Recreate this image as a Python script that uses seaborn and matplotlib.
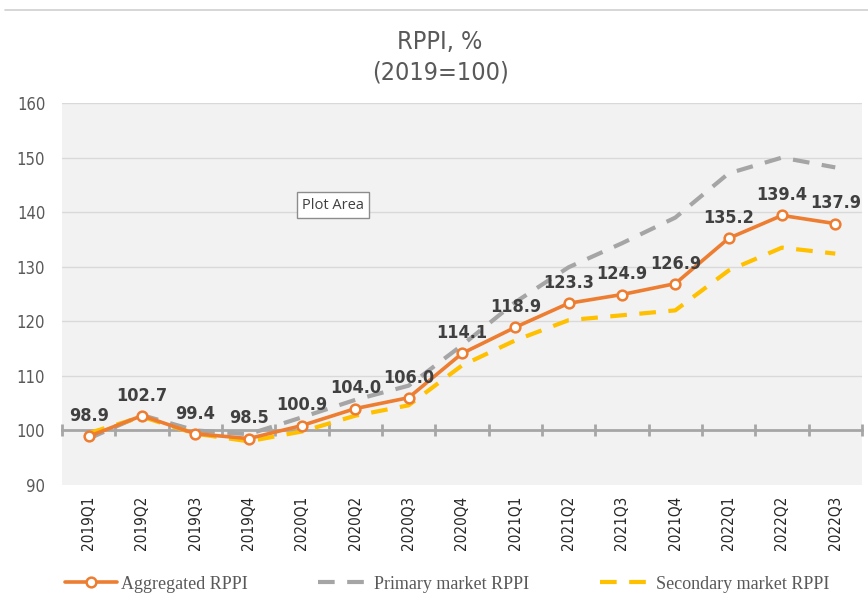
import numpy as np
import pandas as pd
import matplotlib
matplotlib.use("Agg")
import matplotlib.pyplot as plt
import seaborn as sns

# Chart data
quarters = ["2019Q1", "2019Q2", "2019Q3", "2019Q4",
            "2020Q1", "2020Q2", "2020Q3", "2020Q4",
            "2021Q1", "2021Q2", "2021Q3", "2021Q4",
            "2022Q1", "2022Q2", "2022Q3"]
aggregated = [98.9, 102.7, 99.4, 98.5, 100.9, 104.0, 106.0, 114.1,
              118.9, 123.3, 124.9, 126.9, 135.2, 139.4, 137.9]
primary = [98.5, 102.8, 100.0, 99.3, 102.4, 105.6, 108.2, 115.6,
           123.5, 129.9, 134.3, 139.0, 147.1, 150.0, 148.2]
secondary = [99.5, 102.5, 99.4, 98.0, 99.8, 102.7, 104.6, 111.9,
             116.5, 120.2, 121.1, 122.0, 129.3, 133.5, 132.4]
y_ticks = [90, 100, 110, 120, 130, 140, 150, 160]

df = pd.DataFrame({"Quarter": quarters, "Aggregated": aggregated,
                   "Primary": primary, "Secondary": secondary})
df["x"] = np.arange(len(quarters))

sns.set_theme(style="white")
plt.rcParams["font.family"] = ["DejaVu Sans"]
plt.rcParams["font.stretch"] = "condensed"

ORANGE = "#ED7D31"
GRAY = "#A5A5A5"
YELLOW = "#FFC000"
TXT = "#595959"

fig = plt.figure(figsize=(8.68, 6.06), dpi=100)
ax = fig.add_axes([0.0714, 0.1997, 0.9216, 0.6303])
ax.set_facecolor("#F2F2F2")

# Gridlines
for t in y_ticks[1:]:
    if t != 100:
        ax.axhline(t, color="#D9D9D9", lw=1.0, zorder=0)

sns.lineplot(data=df, x="x", y="Primary", ax=ax, color=GRAY, lw=3,
             linestyle=(0, (4, 3)), label="Primary market RPPI", zorder=3)
sns.lineplot(data=df, x="x", y="Secondary", ax=ax, color=YELLOW, lw=3,
             linestyle=(0, (4, 3)), label="Secondary market RPPI", zorder=3)
sns.lineplot(data=df, x="x", y="Aggregated", ax=ax, color=ORANGE, lw=2.6,
             marker="o", markersize=7, markerfacecolor="white",
             markeredgecolor=ORANGE, markeredgewidth=1.8,
             label="Aggregated RPPI", zorder=4)

# Data labels on aggregated series
for xi, v in zip(df["x"], aggregated):
    ax.annotate(f"{v:.1f}", (xi, v), xytext=(0, 8), textcoords="offset points",
                ha="center", va="bottom", fontsize=13, fontweight="bold",
                color="#404040", zorder=5)

ax.set_xlim(-0.5, len(quarters) - 0.5)
ax.set_ylim(90, 160)
ax.set_yticks(y_ticks)
ax.set_yticklabels([str(t) for t in y_ticks], color=TXT, fontsize=12)
ax.set_xticks(df["x"])
ax.set_xticklabels(quarters, color=TXT, fontsize=9.5)
ax.set_xticks(np.arange(len(quarters) + 1) - 0.5, minor=True)
ax.set_xlabel("")
ax.set_ylabel("")

# category axis crosses at 100
for s in ["left", "right", "bottom"]:
    ax.spines[s].set_visible(False)
ax.spines["top"].set_position(("data", 100))
ax.spines["top"].set_color("#A6A6A6")
ax.spines["top"].set_linewidth(2)
ax.spines["top"].set_zorder(1)
ax.tick_params(axis="x", which="major", bottom=False, top=False, pad=2,
               labelrotation=90)
ax.tick_params(axis="x", which="minor", bottom=False, top=True,
               direction="inout", length=9, width=2, color="#A6A6A6")
ax.tick_params(axis="y", left=False, pad=6)

# Excel tooltip
ax.text(4.0, 141.3, "Plot Area", fontsize=10.5, color="#404040",
        family=["Open Sans", "DejaVu Sans"], stretch="normal",
        ha="left", va="center",
        bbox=dict(boxstyle="square,pad=0.35", fc="white", ec="#8C8C8C", lw=1))

# Title
fig.text(0.507, 0.905, "RPPI, %\n(2019=100)", ha="center", va="center",
         fontsize=18, color=TXT, linespacing=1.35, fontweight="medium")

# top rule
fig.add_artist(plt.Line2D([0.006, 1.0], [0.983, 0.983], color="#D0D0D0", lw=1.2))

# Legend
handles, labels = ax.get_legend_handles_labels()
order = [labels.index(l) for l in ["Aggregated RPPI", "Primary market RPPI", "Secondary market RPPI"]]
ax.get_legend().remove()
fig.legend([handles[i] for i in order], [labels[i] for i in order],
           loc="center", bbox_to_anchor=(0.515, 0.036), ncol=3, frameon=False,
           handlelength=2.9, handletextpad=0.2, columnspacing=3.9,
           prop={"family": ["Liberation Serif", "DejaVu Serif"], "size": 13},
           labelcolor=TXT)

fig.savefig("out.png", dpi=100, facecolor="white")
